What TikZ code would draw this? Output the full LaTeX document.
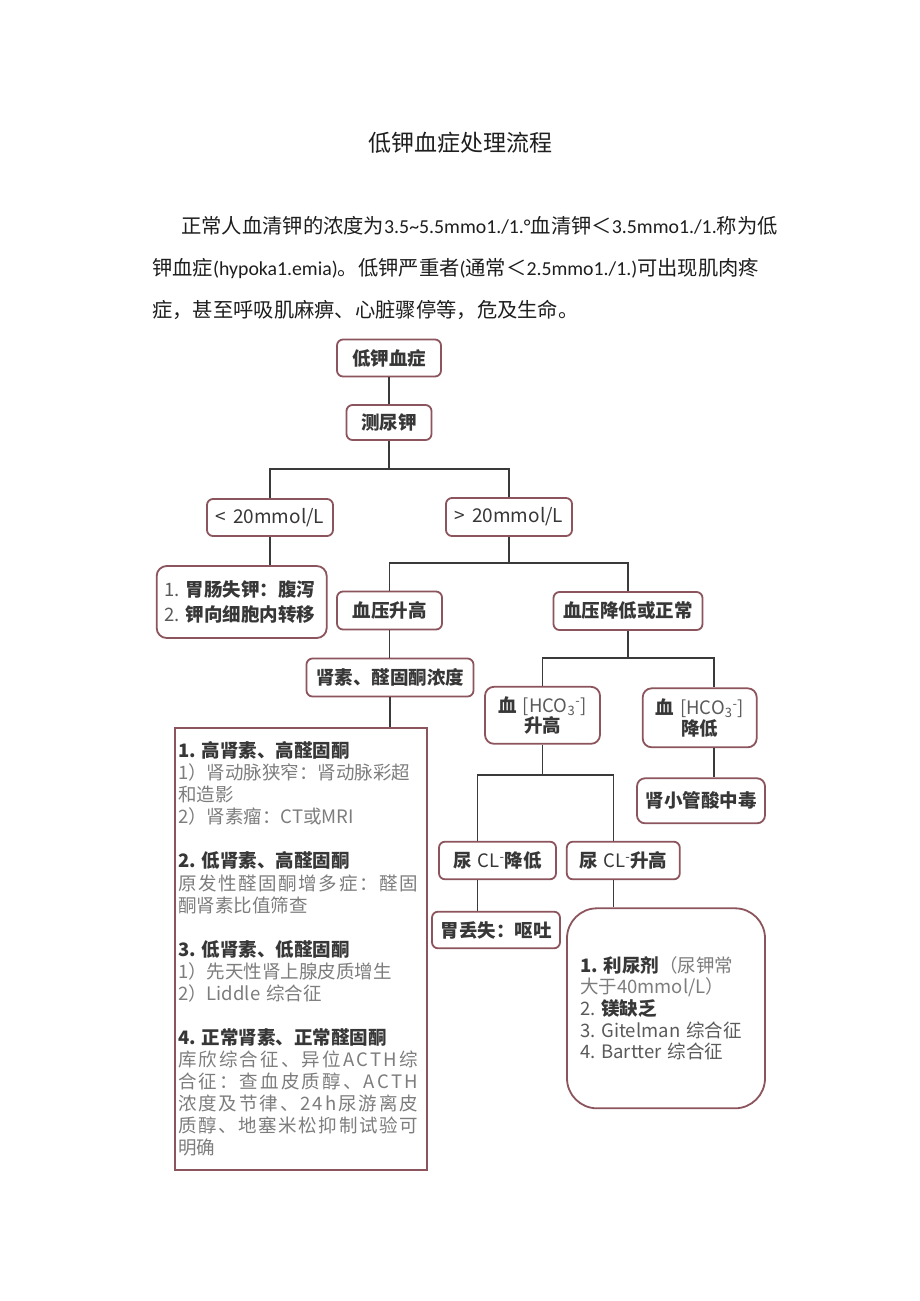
\documentclass[tikz,border=0pt]{standalone}
\usepackage{fontspec}
\setmainfont{Noto Sans CJK SC}
\newfontfamily\lat{Carlito}
\usetikzlibrary{calc}
\definecolor{bx}{RGB}{140,84,92}
\definecolor{ln}{RGB}{58,58,58}
\definecolor{tx}{RGB}{55,55,55}
\definecolor{gy}{RGB}{125,125,125}
\definecolor{gm}{RGB}{90,90,90}
\makeatletter
\def\jx#1{\leavevmode\hbox to 240pt{\jx@a#1\relax}}
\def\jx@a#1{#1\jx@b}
\def\jx@b#1{\ifx\relax#1\else\hfil#1\expandafter\jx@b\fi}
\makeatother
\newcommand\la[1]{{\lat\fontsize{19.8}{20}\selectfont #1}}
\newcommand\hd[1]{{\bfseries\color{tx}#1}}
\newcommand\sk{\hspace{6pt}}
\begin{document}
\begin{tikzpicture}[x=1pt,y=-1pt,
  box/.style={draw=bx, line width=1.8pt, fill=white, rounded corners=6pt,
    inner sep=0pt, align=center, text=tx,
    font=\fontsize{18.5}{19}\selectfont\bfseries},
  conn/.style={draw=ln, line width=1.6pt},
  para/.style={anchor=base west, inner sep=0pt, text={rgb,255:red,30;green,30;blue,30},
    font=\fontsize{20.3}{22}\selectfont}
]
\useasboundingbox[fill=white] (0,0) rectangle (920,1301);
% title and paragraph
\node[anchor=base, inner sep=0pt, font=\fontsize{23}{24}\selectfont, text={rgb,255:red,30;green,30;blue,30}] (title) at (460,151) {低钾血症处理流程};
\node[para] (p1) at (181,233) {正常人血清钾的浓度为\la{3.5\textasciitilde 5.5mmo1./1.°}血清钾＜\la{3.5mmo1./1.}称为低};
\node[para] (p2) at (152,275) {钾血症\la{(hypoka1.emia)}。低钾严重者\la{(}通常＜\la{2.5mmo1./1.)}可出现肌肉疼};
\node[para] (p3) at (152,317) {症，甚至呼吸肌麻痹、心脏骤停等，危及生命。};
% boxes
\node[box, minimum width=104pt, minimum height=37pt] (n1) at (389,358) {低钾血症};
\node[box, minimum width=85pt, minimum height=35pt] (n2) at (389,422.5) {测尿钾};
\node[box, minimum width=126pt, minimum height=37pt, font=\fontsize{19}{19}\selectfont] (n3) at (270,517.5) {<\hspace{7pt}20mmol/L};
\node[box, minimum width=126pt, minimum height=38pt, font=\fontsize{19}{19}\selectfont] (n4) at (509,517) {>\hspace{7pt}20mmol/L};
\node[box, minimum width=170pt, minimum height=72pt, rounded corners=10pt, align=left, text width=155pt, font=\fontsize{18.5}{25.7}\selectfont] (n5) at (241.7,602) {{\color{gm}1.}\sk\hd{胃肠失钾：腹泻}\\{\color{gm}2.}\sk\hd{钾向细胞内转移}};
\node[box, minimum width=105pt, minimum height=38pt] (n6) at (389.5,610.5) {血压升高};
\node[box, minimum width=149pt, minimum height=38pt] (n7) at (628,611) {血压降低或正常};
\node[box, minimum width=167pt, minimum height=38pt] (n8) at (390,677.5) {肾素、醛固酮浓度};
\node[box, rounded corners=0pt, minimum width=252pt, minimum height=442pt, inner xsep=3pt,
  text width=246pt, align=left, text=gy, font=\fontsize{18.5}{22.05}\selectfont\mdseries] (n9) at (301,949) {%
\hd{1.\sk{}高肾素、高醛固酮}\\
1）肾动脉狭窄：肾动脉彩超\\
和造影\\
2）肾素瘤：CT或MRI\\[22.05pt]
\hd{2.\sk{}低肾素、高醛固酮}\\
\jx{原发性醛固酮增多症：醛固}\\
酮肾素比值筛查\\[22.05pt]
\hd{3.\sk{}低肾素、低醛固酮}\\
1）先天性肾上腺皮质增生\\
2）Liddle\sk{}综合征\\[22.05pt]
\hd{4.\sk{}正常肾素、正常醛固酮}\\
\jx{库欣综合征、异位ACTH综}\\
\jx{合征：查血皮质醇、ACTH}\\
\jx{浓度及节律、24h尿游离皮}\\
\jx{质醇、地塞米松抑制试验可}\\
明确};
\node[box, minimum width=115pt, minimum height=57pt, rounded corners=9pt] (n10) at (542.5,715.3) {血\sk{\mdseries\color{gm}[HCO\textsubscript{3}\textsuperscript{-}]}\\升高};
\node[box, minimum width=114pt, minimum height=59pt, rounded corners=9pt] (n11) at (699.7,717.8) {血\sk{\mdseries\color{gm}[HCO\textsubscript{3}\textsuperscript{-}]}\\降低};
\node[box, minimum width=128pt, minimum height=45pt, rounded corners=8pt] (n12) at (701,800.8) {肾小管酸中毒};
\node[box, minimum width=117pt, minimum height=37.6pt] (n13) at (497.5,860.5) {尿\sk{\mdseries CL\textsuperscript{-}}降低};
\node[box, minimum width=113pt, minimum height=37.6pt] (n14) at (623.3,860.5) {尿\sk{\mdseries CL\textsuperscript{-}}升高};
\node[box, minimum width=128pt, minimum height=36.6pt] (n15) at (496,930) {胃丢失：呕吐};
\node[box, rounded corners=30pt, minimum width=198pt, minimum height=200pt, text width=172pt,
  align=left, text=gm, font=\fontsize{18.5}{21.7}\selectfont\mdseries] (n16) at (666,1008.3) {%
\hd{1.\sk{}利尿剂}{\color{gy}（尿钾常}\\
{\color{gy}大于40mmol/L）}\\
2.\sk\hd{镁缺乏}\\
3.\sk{}Gitelman\sk{}综合征\\
4.\sk{}Bartter\sk{}综合征};
% connector coordinates
\coordinate (b1) at (389,469);
\coordinate (b2) at (509,563);
\coordinate (b3) at (628,658);
\coordinate (b4) at (542.5,775);
\coordinate (c11t) at ([xshift=14.3pt]n11.north);
\coordinate (c11b) at ([xshift=14.3pt]n11.south);
\coordinate (c13t) at ([xshift=-20pt]n13.north);
\coordinate (c13b) at ([xshift=-20pt]n13.south);
\coordinate (c14t) at ([xshift=-10pt]n14.north);
\coordinate (c14b) at ([xshift=-10pt]n14.south);
% connectors
\draw[conn] (n1.south) -- (n2.north);
\draw[conn] (n2.south) -- (b1);
\draw[conn] (n3.north) |- (b1) -| (n4.north);
\draw[conn] (n3.south) -- (n3.south |- n5.north);
\draw[conn] (n4.south) -- (b2);
\draw[conn] (n6.north) |- (b2) -| (n7.north);
\draw[conn] (n6.south) -- (n6.south |- n8.north);
\draw[conn] (n8.south) -- (n8.south |- n9.north);
\draw[conn] (n7.south) -- (b3);
\draw[conn] (n10.north) |- (b3) -| (c11t);
\draw[conn] (c11b) -- (c11b |- n12.north);
\draw[conn] (n10.south) -- (b4);
\draw[conn] (c13t) |- (b4) -| (c14t);
\draw[conn] (c13b) -- (c13b |- n15.north);
\draw[conn] (c14b) -- (c14b |- n16.north);
\end{tikzpicture}
\end{document}
